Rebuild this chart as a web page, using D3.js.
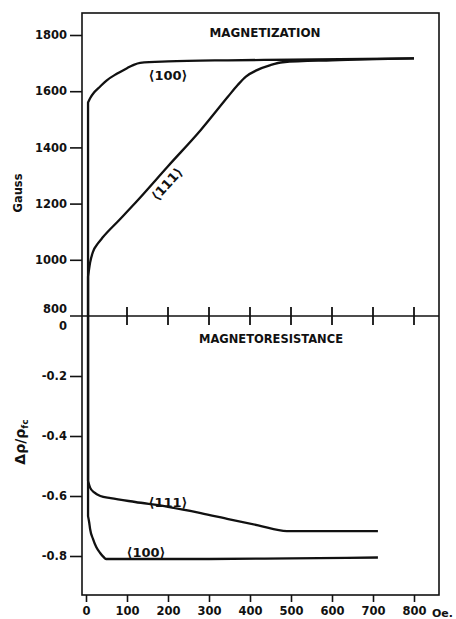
<!DOCTYPE html>
<html>
<head>
<meta charset="utf-8">
<script src="https://cdn.jsdelivr.net/npm/d3@7"></script>
<style>
  body { margin: 0; background: #fff; }
  svg text { font-family: "DejaVu Sans", sans-serif; font-weight: bold; fill: #111; }
</style>
</head>
<body>
<svg id="chart" width="456" height="619"></svg>
<script>
// field values (Oe.), shared by both panels
var fieldTicks = [0, 100, 200, 300, 400, 500, 600, 700, 800];
var gaussTicks = [1000, 1200, 1400, 1600, 1800];
var mrTicks = [-0.2, -0.4, -0.6, -0.8];

// magnetization, [H, Gauss]
var mag100 = [[5,800],[5,1560],[10,1575],[20,1596],[34,1616],[50,1638],[75,1662],[100,1682],[115,1693],[132,1701],[200,1706],[346,1710],[500,1712],[800,1717]];
var mag111 = [[5,800],[5,940],[10,990],[17,1028],[30,1060],[41,1080],[80,1140],[120,1202],[200,1333],[280,1462],[346,1580],[370,1622],[390,1652],[417,1675],[450,1693],[480,1703],[600,1710],[800,1717]];

// magnetoresistance, [H, dRho/Rho]
var mr100 = [[5,0],[5,-0.667],[8,-0.69],[10,-0.71],[17,-0.743],[25,-0.77],[34,-0.789],[42,-0.802],[49,-0.81],[100,-0.81],[300,-0.81],[500,-0.808],[712,-0.805]];
var mr111 = [[5,0],[5,-0.55],[10,-0.572],[20,-0.588],[35,-0.6],[60,-0.607],[120,-0.62],[200,-0.636],[280,-0.657],[350,-0.678],[420,-0.698],[490,-0.717],[600,-0.717],[712,-0.717]];

var svg = d3.select("#chart");

var x = d3.scaleLinear().domain([0, 800]).range([86, 414]);
var yTop = d3.scaleLinear().domain([800, 1800]).range([316, 35]);
var yBot = d3.scaleLinear().domain([0, -0.8]).range([316, 556]);

var frameLeft = 82, frameRight = 439, frameTop = 13, frameBottom = 595;

// frame
svg.append("rect")
	.attr("x", frameLeft).attr("y", frameTop)
	.attr("width", frameRight - frameLeft).attr("height", frameBottom - frameTop)
	.attr("fill", "none").attr("stroke", "#111").attr("stroke-width", 1.6);

// middle dividing axis
svg.append("line")
	.attr("x1", 70).attr("x2", frameRight)
	.attr("y1", yTop(800)).attr("y2", yTop(800))
	.attr("stroke", "#111").attr("stroke-width", 1.6);

svg.append("g").selectAll("line")
	.data(fieldTicks.filter(function(d){ return d > 0; }))
	.enter().append("line")
	.attr("x1", function(d){ return x(d); }).attr("x2", function(d){ return x(d); })
	.attr("y1", yTop(800) - 9).attr("y2", yTop(800) + 9)
	.attr("stroke", "#111").attr("stroke-width", 1.8);

function styleAxis(g){
	g.select(".domain").remove();
	g.selectAll(".tick line").attr("stroke", "#111").attr("stroke-width", 1.6);
	g.selectAll(".tick text").attr("font-size", 11.5).attr("font-family", null);
}

// left axes
svg.append("g")
	.attr("transform", "translate(" + frameLeft + ",0)")
	.call(d3.axisLeft(yTop).tickValues(gaussTicks).tickSize(12).tickPadding(3).tickFormat(d3.format("d")))
	.call(styleAxis);

svg.append("g")
	.attr("transform", "translate(" + frameLeft + ",0)")
	.call(d3.axisLeft(yBot).tickValues(mrTicks).tickSize(12).tickPadding(3).tickFormat(function(d){ return d.toFixed(1); }))
	.call(styleAxis);

svg.append("text").attr("x", 67).attr("y", yTop(800) - 3)
	.attr("text-anchor", "end").attr("font-size", 11.5).text("800");
svg.append("text").attr("x", 67).attr("y", yTop(800) + 14)
	.attr("text-anchor", "end").attr("font-size", 11.5).text("0");

// bottom axis
svg.append("g")
	.attr("transform", "translate(0," + frameBottom + ")")
	.call(d3.axisBottom(x).tickValues(fieldTicks).tickSize(7).tickPadding(5).tickFormat(d3.format("d")))
	.call(styleAxis);

svg.append("text").attr("x", 432).attr("y", 617)
	.attr("font-size", 11).text("Oe.");

// axis titles
svg.append("text")
	.attr("transform", "translate(22,193) rotate(-90)")
	.attr("text-anchor", "middle").attr("font-size", 11.5).text("Gauss");

var rhoLabel = svg.append("text")
	.attr("transform", "translate(25,442) rotate(-90)")
	.attr("text-anchor", "middle").attr("font-size", 14);
rhoLabel.append("tspan").text("Δρ/ρ");
rhoLabel.append("tspan").attr("font-size", 9).attr("dy", 3).text("fc");

// panel titles
svg.append("text").attr("x", 265).attr("y", 37)
	.attr("text-anchor", "middle").attr("font-size", 12.5)
	.attr("textLength", 111).attr("lengthAdjust", "spacingAndGlyphs")
	.text("MAGNETIZATION");
svg.append("text").attr("x", 271).attr("y", 343)
	.attr("text-anchor", "middle").attr("font-size", 12.5)
	.attr("textLength", 144).attr("lengthAdjust", "spacingAndGlyphs")
	.text("MAGNETORESISTANCE");

// curves: straight vertical rise at the start, then a smooth monotone run
function curvePath(s, y){
	var line = d3.line().curve(d3.curveMonotoneX)
		.x(function(d){ return x(d[0]); }).y(function(d){ return y(d[1]); });
	var rest = line(s.slice(1));
	return "M" + x(s[0][0]) + "," + y(s[0][1]) + "L" + rest.slice(1);
}

[mag100, mag111].forEach(function(s){
	svg.append("path").attr("d", curvePath(s, yTop))
		.attr("fill", "none").attr("stroke", "#111").attr("stroke-width", 2.3)
		.attr("stroke-linejoin", "round");
});
[mr100, mr111].forEach(function(s){
	svg.append("path").attr("d", curvePath(s, yBot))
		.attr("fill", "none").attr("stroke", "#111").attr("stroke-width", 2.3)
		.attr("stroke-linejoin", "round");
});

// curve labels
svg.append("text").attr("x", 168).attr("y", 80)
	.attr("text-anchor", "middle").attr("font-size", 13).text("⟨100⟩");
svg.append("text")
	.attr("transform", "translate(167,184) rotate(-48)")
	.attr("text-anchor", "middle").attr("dominant-baseline", "central")
	.attr("font-size", 13).text("⟨111⟩");
svg.append("text").attr("x", 168).attr("y", 507)
	.attr("text-anchor", "middle").attr("font-size", 13).text("⟨111⟩");
svg.append("text").attr("x", 146).attr("y", 557)
	.attr("text-anchor", "middle").attr("font-size", 13).text("⟨100⟩");
</script>
</body>
</html>
